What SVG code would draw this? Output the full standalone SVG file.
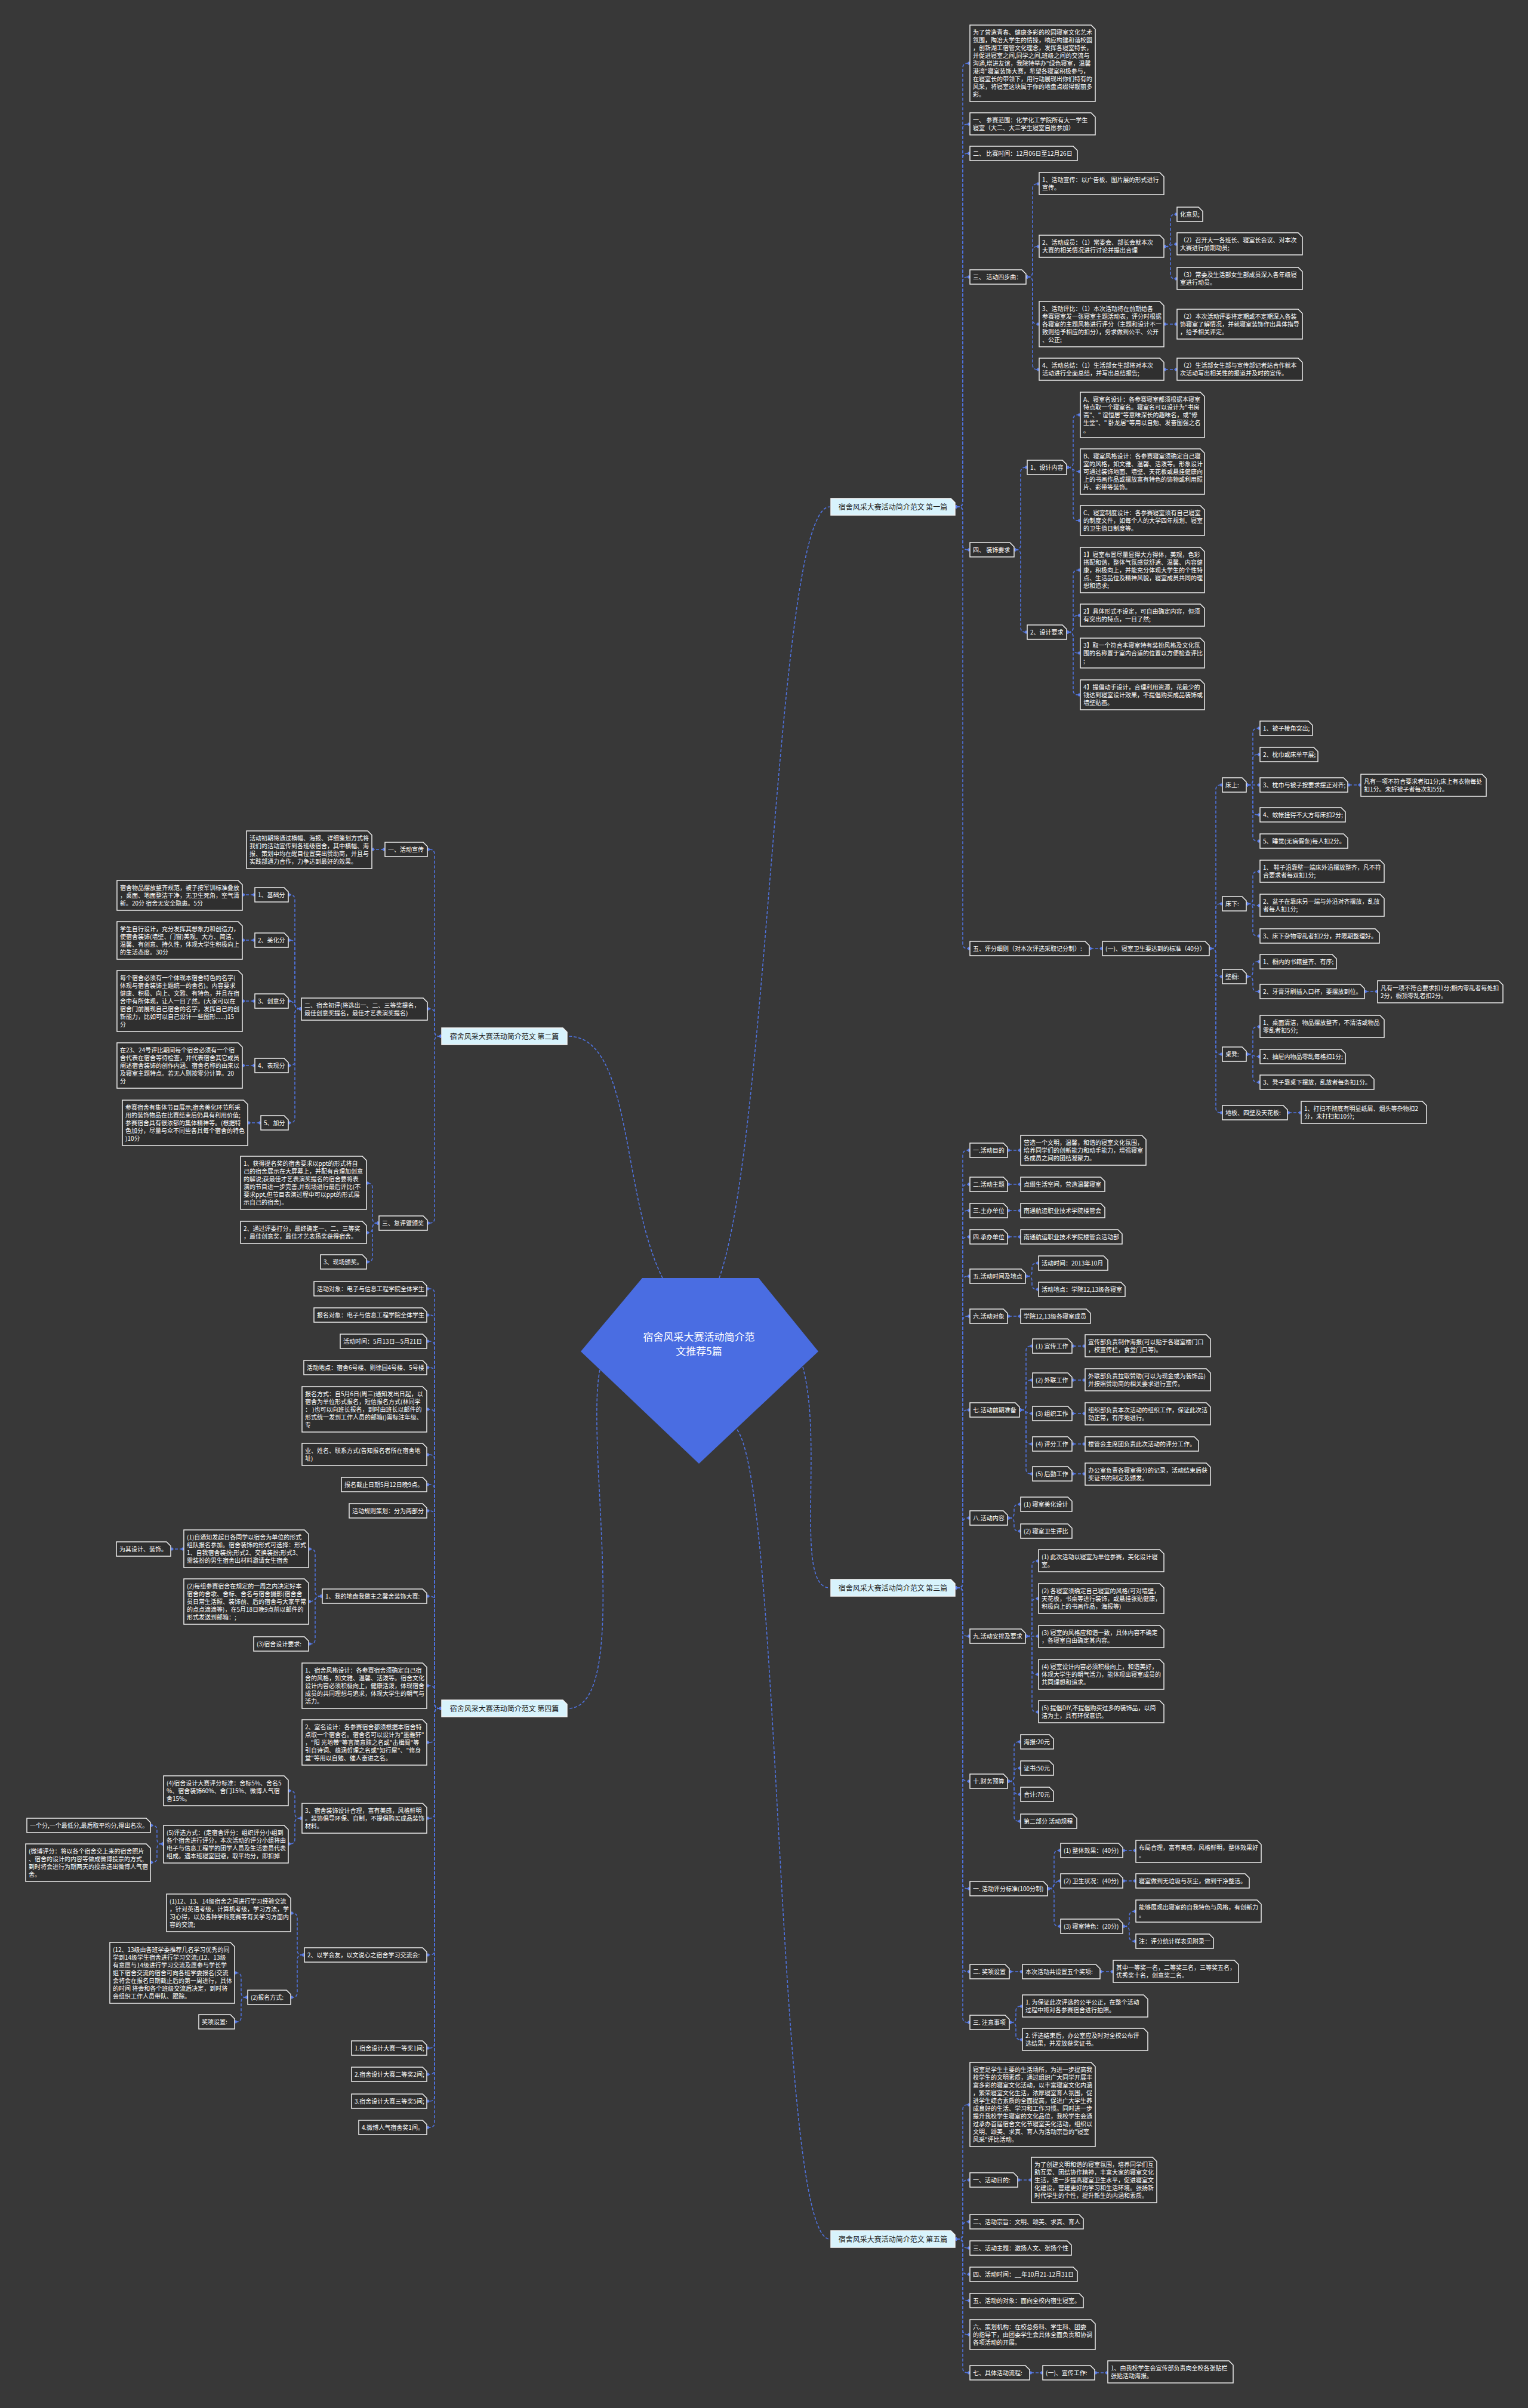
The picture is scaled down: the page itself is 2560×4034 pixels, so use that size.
<svg xmlns="http://www.w3.org/2000/svg" width="2560" height="4034" viewBox="0 0 2560 4034">
<style>
.n path{fill:#2f2f2f;stroke:#ececec;stroke-width:1.5}
.n text{fill:#fff;font-family:'Noto Sans CJK SC','Noto Sans',sans-serif;font-size:10px}
.b path{fill:#d8f3fc;stroke:#f4f4f4;stroke-width:1.5}
.b text{fill:#222;font-family:'Noto Sans CJK SC','Noto Sans',sans-serif;font-size:12px}
.c path{fill:none;stroke:#4f72de;stroke-width:1.6;stroke-dasharray:5 3;marker-start:url(#dot);marker-end:url(#dot)}
.cc path{fill:none;stroke:#4f72de;stroke-width:1.6;stroke-dasharray:5 3}
</style>
<defs>
<marker id="dot" viewBox="-4 -4 8 8" markerWidth="8" markerHeight="8" markerUnits="userSpaceOnUse"><path d="M0 -3L3 0L0 3L-3 0Z" fill="#5a7ce6"/></marker>
</defs>
<rect width="2560" height="4034" fill="#383838"/>

<g id="connectors">
<g class="cc">
<path d="M1205 2141C1290 1900 1300 849 1390 849"/>
<path d="M1345 2290C1380 2420 1330 2660 1390 2660"/>
<path d="M1235 2395C1310 2500 1300 3751 1390 3751"/>
<path d="M1110 2141C1040 2000 1060 1736 952 1736"/>
<path d="M1005 2295C980 2420 1060 2862 952 2862"/>
</g>
<g class="c">
<!-- section 1 -->
<path d="M1602 849H1605Q1613 849 1613 841V114Q1613 106 1621 106H1623"/>
<path d="M1602 849H1605Q1613 849 1613 841V216Q1613 208 1621 208H1623"/>
<path d="M1602 849H1605Q1613 849 1613 841V265Q1613 257 1621 257H1623"/>
<path d="M1602 849H1605Q1613 849 1613 841V472Q1613 464 1621 464H1623"/>
<path d="M1602 849H1605Q1613 849 1613 857V913Q1613 921 1621 921H1623"/>
<path d="M1602 849H1605Q1613 849 1613 857V1581Q1613 1589 1621 1589H1623"/>
<path d="M1721 464H1722Q1730 464 1730 456V316Q1730 308 1738 308H1739"/>
<path d="M1721 464H1722Q1730 464 1730 456V421Q1730 413 1738 413H1739"/>
<path d="M1721 464H1722Q1730 464 1730 472V535Q1730 543 1738 543H1739"/>
<path d="M1721 464H1722Q1730 464 1730 472V611Q1730 619 1738 619H1739"/>
<path d="M1952 413H1953Q1961 413 1961 405V367Q1961 359 1969 359H1970"/>
<path d="M1952 413C1961 413 1961 409 1970 409"/>
<path d="M1952 413H1953Q1961 413 1961 421V459Q1961 467 1969 467H1970"/>
<path d="M1952 543H1970"/>
<path d="M1952 619H1970"/>
<path d="M1701 921H1702Q1710 921 1710 913V791Q1710 783 1718 783H1719"/>
<path d="M1701 921H1702Q1710 921 1710 929V1051Q1710 1059 1718 1059H1719"/>
<path d="M1789 783H1790Q1798 783 1798 775V703Q1798 695 1806 695H1808"/>
<path d="M1789 783C1798 783 1798 790 1808 790"/>
<path d="M1789 783H1790Q1798 783 1798 791V864Q1798 872 1806 872H1808"/>
<path d="M1789 1059H1790Q1798 1059 1798 1051V963Q1798 955 1806 955H1808"/>
<path d="M1789 1059H1790Q1798 1059 1798 1051V1039Q1798 1031 1806 1031H1808"/>
<path d="M1789 1059H1790Q1798 1059 1798 1067V1086Q1798 1094 1806 1094H1808"/>
<path d="M1789 1059H1790Q1798 1059 1798 1067V1156Q1798 1164 1806 1164H1808"/>
<path d="M1827 1589H1845"/>
<path d="M2028 1589H2029Q2037 1589 2037 1581V1323Q2037 1315 2045 1315H2046"/>
<path d="M2028 1589H2029Q2037 1589 2037 1581V1522Q2037 1514 2045 1514H2046"/>
<path d="M2028 1589H2029Q2037 1589 2037 1597V1628Q2037 1636 2045 1636H2046"/>
<path d="M2028 1589H2029Q2037 1589 2037 1597V1758Q2037 1766 2045 1766H2046"/>
<path d="M2028 1589H2029Q2037 1589 2037 1597V1856Q2037 1864 2045 1864H2046"/>
<path d="M2090 1315H2091Q2099 1315 2099 1307V1228Q2099 1220 2107 1220H2109"/>
<path d="M2090 1315H2091Q2099 1315 2099 1307V1272Q2099 1264 2107 1264H2109"/>
<path d="M2090 1315H2109"/>
<path d="M2090 1315H2091Q2099 1315 2099 1323V1357Q2099 1365 2107 1365H2109"/>
<path d="M2090 1315H2091Q2099 1315 2099 1323V1401Q2099 1409 2107 1409H2109"/>
<path d="M2260 1315H2278"/>
<path d="M2090 1514H2091Q2099 1514 2099 1506V1468Q2099 1460 2107 1460H2109"/>
<path d="M2090 1514C2099 1514 2099 1517 2109 1517"/>
<path d="M2090 1514H2091Q2099 1514 2099 1522V1560Q2099 1568 2107 1568H2109"/>
<path d="M2090 1636H2091Q2099 1636 2099 1628V1619Q2099 1611 2107 1611H2109"/>
<path d="M2090 1636H2091Q2099 1636 2099 1644V1653Q2099 1661 2107 1661H2109"/>
<path d="M2288 1661H2306"/>
<path d="M2090 1766H2091Q2099 1766 2099 1758V1728Q2099 1720 2107 1720H2109"/>
<path d="M2090 1766C2099 1766 2099 1770 2109 1770"/>
<path d="M2090 1766H2091Q2099 1766 2099 1774V1805Q2099 1813 2107 1813H2109"/>
<path d="M2159 1864H2178"/>
<!-- section 3 -->
<path d="M1602 2660H1605Q1613 2660 1613 2652V1935Q1613 1927 1621 1927H1623"/>
<path d="M1602 2660H1605Q1613 2660 1613 2652V1992Q1613 1984 1621 1984H1623"/>
<path d="M1602 2660H1605Q1613 2660 1613 2652V2036Q1613 2028 1621 2028H1623"/>
<path d="M1602 2660H1605Q1613 2660 1613 2652V2080Q1613 2072 1621 2072H1623"/>
<path d="M1602 2660H1605Q1613 2660 1613 2652V2146Q1613 2138 1621 2138H1623"/>
<path d="M1602 2660H1605Q1613 2660 1613 2652V2213Q1613 2205 1621 2205H1623"/>
<path d="M1602 2660H1605Q1613 2660 1613 2652V2370Q1613 2362 1621 2362H1623"/>
<path d="M1602 2660H1605Q1613 2660 1613 2652V2551Q1613 2543 1621 2543H1623"/>
<path d="M1602 2660H1605Q1613 2660 1613 2668V2733Q1613 2741 1621 2741H1623"/>
<path d="M1602 2660H1605Q1613 2660 1613 2668V2976Q1613 2984 1621 2984H1623"/>
<path d="M1602 2660H1605Q1613 2660 1613 2668V3156Q1613 3164 1621 3164H1623"/>
<path d="M1602 2660H1605Q1613 2660 1613 2668V3295Q1613 3303 1621 3303H1623"/>
<path d="M1602 2660H1605Q1613 2660 1613 2668V3380Q1613 3388 1621 3388H1623"/>
<path d="M1690 1927H1708"/>
<path d="M1690 1984H1708"/>
<path d="M1690 2028H1708"/>
<path d="M1690 2072H1708"/>
<path d="M1720 2138H1721Q1729 2138 1729 2130V2124Q1729 2116 1737 2116H1738"/>
<path d="M1720 2138H1721Q1729 2138 1729 2146V2152Q1729 2160 1737 2160H1738"/>
<path d="M1690 2205H1708"/>
<path d="M1710 2362H1711Q1719 2362 1719 2354V2263Q1719 2255 1727 2255H1728"/>
<path d="M1710 2362H1711Q1719 2362 1719 2354V2320Q1719 2312 1727 2312H1728"/>
<path d="M1710 2362C1719 2362 1719 2368 1728 2368"/>
<path d="M1710 2362H1711Q1719 2362 1719 2370V2411Q1719 2419 1727 2419H1728"/>
<path d="M1710 2362H1711Q1719 2362 1719 2370V2461Q1719 2469 1727 2469H1728"/>
<path d="M1798 2255H1816"/>
<path d="M1798 2312H1816"/>
<path d="M1798 2368H1816"/>
<path d="M1798 2419H1816"/>
<path d="M1798 2469H1816"/>
<path d="M1690 2543H1691Q1699 2543 1699 2535V2528Q1699 2520 1707 2520H1708"/>
<path d="M1690 2543H1691Q1699 2543 1699 2551V2557Q1699 2565 1707 2565H1708"/>
<path d="M1720 2741H1721Q1729 2741 1729 2733V2623Q1729 2615 1737 2615H1738"/>
<path d="M1720 2741H1721Q1729 2741 1729 2733V2686Q1729 2678 1737 2678H1738"/>
<path d="M1720 2741H1738"/>
<path d="M1720 2741H1721Q1729 2741 1729 2749V2797Q1729 2805 1737 2805H1738"/>
<path d="M1720 2741H1721Q1729 2741 1729 2749V2860Q1729 2868 1737 2868H1738"/>
<path d="M1690 2984H1691Q1699 2984 1699 2976V2926Q1699 2918 1707 2918H1708"/>
<path d="M1690 2984H1691Q1699 2984 1699 2976V2970Q1699 2962 1707 2962H1708"/>
<path d="M1690 2984H1691Q1699 2984 1699 2992V2998Q1699 3006 1707 3006H1708"/>
<path d="M1690 2984H1691Q1699 2984 1699 2992V3043Q1699 3051 1707 3051H1708"/>
<path d="M1757 3164H1758Q1766 3164 1766 3156V3108Q1766 3100 1774 3100H1775"/>
<path d="M1757 3164C1766 3164 1766 3151 1775 3151"/>
<path d="M1757 3164H1758Q1766 3164 1766 3172V3219Q1766 3227 1774 3227H1775"/>
<path d="M1883 3100H1901"/>
<path d="M1883 3151H1901"/>
<path d="M1883 3227H1884Q1892 3227 1892 3219V3210Q1892 3202 1900 3202H1901"/>
<path d="M1883 3227H1884Q1892 3227 1892 3235V3244Q1892 3252 1900 3252H1901"/>
<path d="M1693 3303H1711"/>
<path d="M1845 3303H1863"/>
<path d="M1693 3388H1694Q1702 3388 1702 3380V3369Q1702 3361 1710 3361H1711"/>
<path d="M1693 3388H1694Q1702 3388 1702 3396V3409Q1702 3417 1710 3417H1711"/>
<!-- section 5 -->
<path d="M1602 3751H1605Q1613 3751 1613 3743V3534Q1613 3526 1621 3526H1623"/>
<path d="M1602 3751H1605Q1613 3751 1613 3743V3660Q1613 3652 1621 3652H1623"/>
<path d="M1602 3751H1605Q1613 3751 1613 3743V3730Q1613 3722 1621 3722H1623"/>
<path d="M1602 3751H1605Q1613 3751 1613 3759V3758Q1613 3766 1621 3766H1623"/>
<path d="M1602 3751H1605Q1613 3751 1613 3759V3802Q1613 3810 1621 3810H1623"/>
<path d="M1602 3751H1605Q1613 3751 1613 3759V3846Q1613 3854 1621 3854H1623"/>
<path d="M1602 3751H1605Q1613 3751 1613 3759V3903Q1613 3911 1621 3911H1623"/>
<path d="M1602 3751H1605Q1613 3751 1613 3759V3967Q1613 3975 1621 3975H1623"/>
<path d="M1707 3652H1726"/>
<path d="M1727 3975H1745"/>
<path d="M1836 3975H1854"/>
<!-- section 2 -->
<path d="M738 1736H736Q728 1736 728 1728V1431Q728 1423 720 1423H718"/>
<path d="M738 1736H736Q728 1736 728 1728V1698Q728 1690 720 1690H718"/>
<path d="M738 1736H736Q728 1736 728 1744V2041Q728 2049 720 2049H718"/>
<path d="M643 1423H625"/>
<path d="M503 1690H502Q494 1690 494 1682V1507Q494 1499 486 1499H485"/>
<path d="M503 1690H502Q494 1690 494 1682V1583Q494 1575 486 1575H485"/>
<path d="M503 1690C494 1690 494 1677 485 1677"/>
<path d="M503 1690H502Q494 1690 494 1698V1777Q494 1785 486 1785H485"/>
<path d="M503 1690H502Q494 1690 494 1698V1873Q494 1881 486 1881H485"/>
<path d="M425 1499H408"/>
<path d="M425 1575H408"/>
<path d="M425 1677H408"/>
<path d="M425 1785H408"/>
<path d="M435 1881H417"/>
<path d="M633 2049H632Q624 2049 624 2041V1990Q624 1982 616 1982"/>
<path d="M633 2049H632Q624 2049 624 2057V2057Q624 2065 616 2065"/>
<path d="M633 2049H632Q624 2049 624 2057V2106Q624 2114 616 2114"/>
<!-- section 4 -->
<path d="M738 2862H736Q728 2862 728 2854V2167Q728 2159 720 2159H717"/>
<path d="M738 2862H736Q728 2862 728 2854V2211Q728 2203 720 2203H717"/>
<path d="M738 2862H736Q728 2862 728 2854V2255Q728 2247 720 2247H717"/>
<path d="M738 2862H736Q728 2862 728 2854V2299Q728 2291 720 2291H717"/>
<path d="M738 2862H736Q728 2862 728 2854V2369Q728 2361 720 2361H717"/>
<path d="M738 2862H736Q728 2862 728 2854V2445Q728 2437 720 2437H717"/>
<path d="M738 2862H736Q728 2862 728 2854V2495Q728 2487 720 2487H717"/>
<path d="M738 2862H736Q728 2862 728 2854V2539Q728 2531 720 2531H717"/>
<path d="M738 2862H736Q728 2862 728 2854V2682Q728 2674 720 2674H717"/>
<path d="M738 2862H736Q728 2862 728 2854V2832Q728 2824 720 2824H717"/>
<path d="M738 2862H736Q728 2862 728 2870V2911Q728 2919 720 2919H717"/>
<path d="M738 2862H736Q728 2862 728 2870V3038Q728 3046 720 3046H717"/>
<path d="M738 2862H736Q728 2862 728 2870V3267Q728 3275 720 3275H717"/>
<path d="M738 2862H736Q728 2862 728 2870V3423Q728 3431 720 3431H717"/>
<path d="M738 2862H736Q728 2862 728 2870V3467Q728 3475 720 3475H717"/>
<path d="M738 2862H736Q728 2862 728 2870V3512Q728 3520 720 3520H717"/>
<path d="M738 2862H736Q728 2862 728 2870V3556Q728 3564 720 3564H717"/>
<path d="M538 2674H536Q528 2674 528 2666V2603Q528 2595 520 2595H519"/>
<path d="M538 2674C528 2674 528 2683 519 2683"/>
<path d="M538 2674H536Q528 2674 528 2682V2746Q528 2754 520 2754H519"/>
<path d="M306 2595H288"/>
<path d="M504 3046H502Q494 3046 494 3038V3008Q494 3000 486 3000H485"/>
<path d="M504 3046H502Q494 3046 494 3054V3081Q494 3089 486 3089H485"/>
<path d="M272 3089H271Q263 3089 263 3081V3066Q263 3058 255 3058H254"/>
<path d="M272 3089H271Q263 3089 263 3097V3112Q263 3120 255 3120H254"/>
<path d="M508 3275H506Q498 3275 498 3267V3213Q498 3205 490 3205H489"/>
<path d="M508 3275H506Q498 3275 498 3283V3338Q498 3346 490 3346H489"/>
<path d="M413 3346H412Q404 3346 404 3338V3313Q404 3305 396 3305H395"/>
<path d="M413 3346H412Q404 3346 404 3354V3379Q404 3387 396 3387H395"/>
</g>
</g>

<g id="center">
<polygon points="1076,2141 1271,2141 1371,2264 1171,2452 973,2264" fill="#4a6de2"/>
<text x="1171" y="2246" text-anchor="middle" font-family="'Noto Sans CJK SC',sans-serif" font-size="17" fill="#fff">宿舍风采大赛活动简介范</text>
<text x="1171" y="2270" text-anchor="middle" font-family="'Noto Sans CJK SC',sans-serif" font-size="17" fill="#fff">文推荐5篇</text>
</g>

<g id="b1" class="b" transform="translate(1392,835)"><path d="M0 0H201L208 7V28H0Z"/><text x="104" y="19" text-anchor="middle">宿舍风采大赛活动简介范文 第一篇</text></g>
<g id="b2" class="b" transform="translate(740,1722)"><path d="M0 0H203L210 7V28H0Z"/><text x="105" y="19" text-anchor="middle">宿舍风采大赛活动简介范文 第二篇</text></g>
<g id="b3" class="b" transform="translate(1392,2646)"><path d="M0 0H201L208 7V28H0Z"/><text x="104" y="19" text-anchor="middle">宿舍风采大赛活动简介范文 第三篇</text></g>
<g id="b4" class="b" transform="translate(740,2848)"><path d="M0 0H203L210 7V28H0Z"/><text x="105" y="19" text-anchor="middle">宿舍风采大赛活动简介范文 第四篇</text></g>
<g id="b5" class="b" transform="translate(1392,3737)"><path d="M0 0H201L208 7V28H0Z"/><text x="104" y="19" text-anchor="middle">宿舍风采大赛活动简介范文 第五篇</text></g>

<!-- Section 1 -->
<g id="s1a" class="n" transform="translate(1625,42)"><path d="M0 0H203L210 7V128H0Z"/><text x="5" y="16">为了营造青春、健康多彩的校园寝室文化艺术<tspan x="5" dy="13">氛围，陶冶大学生的情操，响应构建和谐校园</tspan><tspan x="5" dy="13">，创新湖工宿管文化理念，发挥各寝室特长，</tspan><tspan x="5" dy="13">并促进寝室之间,同学之间,班级之间的交流与</tspan><tspan x="5" dy="13">沟通,增进友谊，我院特举办"绿色寝室，温馨</tspan><tspan x="5" dy="13">港湾"寝室装饰大赛，希望各寝室积极参与，</tspan><tspan x="5" dy="13">在寝室长的带领下，用行动展现出你们特有的</tspan><tspan x="5" dy="13">风采，将寝室这块属于你的地盘点缀得靓丽多</tspan><tspan x="5" dy="13">彩。</tspan></text></g>
<g id="s1b" class="n" transform="translate(1625,189)"><path d="M0 0H203L210 7V37H0Z"/><text x="5" y="16">一、 参赛范围：化学化工学院所有大一学生<tspan x="5" dy="13">寝室（大二、大三学生寝室自愿参加）</tspan></text></g>
<g id="s1c" class="n" transform="translate(1625,245)"><path d="M0 0H173L180 7V24H0Z"/><text x="5" y="16">二、 比赛时间：12月06日至12月26日</text></g>
<g id="s1d" class="n" transform="translate(1625,452)"><path d="M0 0H87L94 7V24H0Z"/><text x="5" y="16">三、 活动四步曲：</text></g>
<g id="s1d1" class="n" transform="translate(1741,289)"><path d="M0 0H202L209 7V37H0Z"/><text x="5" y="16">1、活动宣传：以广告板、图片展的形式进行<tspan x="5" dy="13">宣传。</tspan></text></g>
<g id="s1d2" class="n" transform="translate(1741,394)"><path d="M0 0H202L209 7V37H0Z"/><text x="5" y="16">2、活动成员：（1）常委会、部长会就本次<tspan x="5" dy="13">大赛的相关情况进行讨论并提出合理</tspan></text></g>
<g id="s1d2a" class="n" transform="translate(1972,347)"><path d="M0 0H36L43 7V24H0Z"/><text x="5" y="16">化意见;</text></g>
<g id="s1d2b" class="n" transform="translate(1972,390)"><path d="M0 0H203L210 7V37H0Z"/><text x="5" y="16">（2）召开大一各班长、寝室长会议、对本次<tspan x="5" dy="13">大赛进行前期动员;</tspan></text></g>
<g id="s1d2c" class="n" transform="translate(1972,448)"><path d="M0 0H203L210 7V37H0Z"/><text x="5" y="16">（3）常委及生活部女生部成员深入各年级寝<tspan x="5" dy="13">室进行动员。</tspan></text></g>
<g id="s1d3" class="n" transform="translate(1741,505)"><path d="M0 0H202L209 7V76H0Z"/><text x="5" y="16">3、活动评比：（1）本次活动将在前期给各<tspan x="5" dy="13">参赛寝室发一张寝室主题活动表，评分时根据</tspan><tspan x="5" dy="13">各寝室的主题风格进行评分（主题和设计不一</tspan><tspan x="5" dy="13">致则给予相应的扣分），务求做到公平、公开</tspan><tspan x="5" dy="13">、公正;</tspan></text></g>
<g id="s1d3a" class="n" transform="translate(1972,518)"><path d="M0 0H203L210 7V50H0Z"/><text x="5" y="16">（2）本次活动评委将定期或不定期深入各装<tspan x="5" dy="13">饰寝室了解情况，并就寝室装饰作出具体指导</tspan><tspan x="5" dy="13">，给予相关评定。</tspan></text></g>
<g id="s1d4" class="n" transform="translate(1741,600)"><path d="M0 0H202L209 7V37H0Z"/><text x="5" y="16">4、活动总结：（1）生活部女生部将对本次<tspan x="5" dy="13">活动进行全面总结，并写出总结报告;</tspan></text></g>
<g id="s1d4a" class="n" transform="translate(1972,600)"><path d="M0 0H203L210 7V37H0Z"/><text x="5" y="16">（2）生活部女生部与宣传部记者站合作就本<tspan x="5" dy="13">次活动写出相关性的报道并及时的宣传。</tspan></text></g>
<g id="s1e" class="n" transform="translate(1625,909)"><path d="M0 0H67L74 7V24H0Z"/><text x="5" y="16">四、 装饰要求</text></g>
<g id="s1e1" class="n" transform="translate(1721,771)"><path d="M0 0H59L66 7V24H0Z"/><text x="5" y="16">1、设计内容</text></g>
<g id="s1e1a" class="n" transform="translate(1810,657)"><path d="M0 0H201L208 7V76H0Z"/><text x="5" y="16">A、寝室名设计：各参赛寝室都须根据本寝室<tspan x="5" dy="13">特点取一个寝室名。寝室名可以设计为"书房</tspan><tspan x="5" dy="13">斋"、" 谊恒居"等意味深长的趣味名，或"修</tspan><tspan x="5" dy="13">生堂"、" 卧龙居"等用以自勉、发奋图强之名</tspan><tspan x="5" dy="13">。</tspan></text></g>
<g id="s1e1b" class="n" transform="translate(1810,752)"><path d="M0 0H201L208 7V76H0Z"/><text x="5" y="16">B、寝室风格设计：各参赛寝室须确定自己寝<tspan x="5" dy="13">室的风格，如文雅、温馨、活泼等。形象设计</tspan><tspan x="5" dy="13">可通过装饰地面、墙壁、天花板或悬挂健康向</tspan><tspan x="5" dy="13">上的书画作品或摆放富有特色的饰物或利用照</tspan><tspan x="5" dy="13">片、彩带等装饰。</tspan></text></g>
<g id="s1e1c" class="n" transform="translate(1810,847)"><path d="M0 0H201L208 7V50H0Z"/><text x="5" y="16">C、寝室制度设计：各参赛寝室须有自己寝室<tspan x="5" dy="13">的制度文件，如每个人的大学四年规划、寝室</tspan><tspan x="5" dy="13">的卫生值日制度等。</tspan></text></g>
<g id="s1e2" class="n" transform="translate(1721,1047)"><path d="M0 0H59L66 7V24H0Z"/><text x="5" y="16">2、设计要求</text></g>
<g id="s1e2a" class="n" transform="translate(1810,917)"><path d="M0 0H201L208 7V76H0Z"/><text x="5" y="16">1】寝室布置尽量显得大方得体，美观，色彩<tspan x="5" dy="13">搭配和谐，整体气氛感觉舒适、温馨、内容健</tspan><tspan x="5" dy="13">康，积极向上，并能充分体现大学生的个性特</tspan><tspan x="5" dy="13">点、生活品位及精神风貌，寝室成员共同的理</tspan><tspan x="5" dy="13">想和追求;</tspan></text></g>
<g id="s1e2b" class="n" transform="translate(1810,1012)"><path d="M0 0H201L208 7V37H0Z"/><text x="5" y="16">2】具体形式不设定，可自由确定内容，但须<tspan x="5" dy="13">有突出的特点，一目了然;</tspan></text></g>
<g id="s1e2c" class="n" transform="translate(1810,1069)"><path d="M0 0H201L208 7V50H0Z"/><text x="5" y="16">3】取一个符合本寝室特有装扮风格及文化氛<tspan x="5" dy="13">围的名称置于室内合适的位置以方便检查评比</tspan><tspan x="5" dy="13">;</tspan></text></g>
<g id="s1e2d" class="n" transform="translate(1810,1139)"><path d="M0 0H201L208 7V50H0Z"/><text x="5" y="16">4】提倡动手设计，合理利用资源，花最少的<tspan x="5" dy="13">钱达到寝室设计效果，不提倡购买成品装饰或</tspan><tspan x="5" dy="13">墙壁贴画。</tspan></text></g>
<g id="s1f" class="n" transform="translate(1625,1577)"><path d="M0 0H193L200 7V24H0Z"/><text x="5" y="16">五、评分细则（对本次评选采取记分制）:</text></g>
<g id="s1f1" class="n" transform="translate(1847,1577)"><path d="M0 0H172L179 7V24H0Z"/><text x="5" y="16">(一)、寝室卫生要达到的标准（40分）</text></g>
<g id="bed1" class="n" transform="translate(2048,1303)"><path d="M0 0H33L40 7V24H0Z"/><text x="5" y="16">床上:</text></g>
<g id="bed1a" class="n" transform="translate(2111,1208)"><path d="M0 0H81L88 7V24H0Z"/><text x="5" y="16">1、被子棱角突出;</text></g>
<g id="bed1b" class="n" transform="translate(2111,1252)"><path d="M0 0H90L97 7V24H0Z"/><text x="5" y="16">2、枕巾或床单平展;</text></g>
<g id="bed1c" class="n" transform="translate(2111,1303)"><path d="M0 0H140L147 7V24H0Z"/><text x="5" y="16">3、枕巾与被子按要求摆正对齐;</text></g>
<g id="bed1c1" class="n" transform="translate(2280,1297)"><path d="M0 0H203L210 7V37H0Z"/><text x="5" y="16">凡有一项不符合要求者扣1分;床上有衣物每处<tspan x="5" dy="13">扣1分。未折被子者每次扣5分。</tspan></text></g>
<g id="bed1d" class="n" transform="translate(2111,1353)"><path d="M0 0H136L143 7V24H0Z"/><text x="5" y="16">4、蚊帐挂得不大方每床扣2分;</text></g>
<g id="bed1e" class="n" transform="translate(2111,1397)"><path d="M0 0H140L147 7V24H0Z"/><text x="5" y="16">5、睡觉(无病假条)每人扣2分。</text></g>
<g id="bed2" class="n" transform="translate(2048,1502)"><path d="M0 0H33L40 7V24H0Z"/><text x="5" y="16">床下:</text></g>
<g id="bed2a" class="n" transform="translate(2111,1441)"><path d="M0 0H201L208 7V37H0Z"/><text x="5" y="16">1、 鞋子沿靠壁一端床外沿摆放整齐，凡不符<tspan x="5" dy="13">合要求者每双扣1分;</tspan></text></g>
<g id="bed2b" class="n" transform="translate(2111,1498)"><path d="M0 0H201L208 7V37H0Z"/><text x="5" y="16">2、盆子在靠床另一端与外沿对齐摆放，乱放<tspan x="5" dy="13">者每人扣1分;</tspan></text></g>
<g id="bed2c" class="n" transform="translate(2111,1556)"><path d="M0 0H193L200 7V24H0Z"/><text x="5" y="16">3、床下杂物零乱者扣2分，并限期整理好。</text></g>
<g id="cab" class="n" transform="translate(2048,1624)"><path d="M0 0H33L40 7V24H0Z"/><text x="5" y="16">壁橱:</text></g>
<g id="caba" class="n" transform="translate(2111,1599)"><path d="M0 0H121L128 7V24H0Z"/><text x="5" y="16">1、橱内的书籍整齐、有序;</text></g>
<g id="cabb" class="n" transform="translate(2111,1649)"><path d="M0 0H168L175 7V24H0Z"/><text x="5" y="16">2、牙膏牙刷插入口杯，要摆放到位。</text></g>
<g id="cabb1" class="n" transform="translate(2308,1643)"><path d="M0 0H203L210 7V37H0Z"/><text x="5" y="16">凡有一项不符合要求扣1分;橱内零乱者每处扣<tspan x="5" dy="13">2分，橱顶零乱者扣2分。</tspan></text></g>
<g id="desk" class="n" transform="translate(2048,1754)"><path d="M0 0H33L40 7V24H0Z"/><text x="5" y="16">桌凳:</text></g>
<g id="deska" class="n" transform="translate(2111,1701)"><path d="M0 0H201L208 7V37H0Z"/><text x="5" y="16">1、桌面清洁，物品摆放整齐，不清洁或物品<tspan x="5" dy="13">零乱者扣5分;</tspan></text></g>
<g id="deskb" class="n" transform="translate(2111,1758)"><path d="M0 0H136L143 7V24H0Z"/><text x="5" y="16">2、抽屉内物品零乱每格扣1分;</text></g>
<g id="deskc" class="n" transform="translate(2111,1801)"><path d="M0 0H184L191 7V24H0Z"/><text x="5" y="16">3、凳子靠桌下摆放，乱放者每条扣1分。</text></g>
<g id="floor" class="n" transform="translate(2048,1852)"><path d="M0 0H102L109 7V24H0Z"/><text x="5" y="16">地板、四壁及天花板:</text></g>
<g id="floora" class="n" transform="translate(2180,1845)"><path d="M0 0H203L210 7V37H0Z"/><text x="5" y="16">1、打扫不彻底有明显纸屑、烟头等杂物扣2<tspan x="5" dy="13">分，未打扫扣10分;</tspan></text></g>

<!-- Section 3 -->
<g id="t1" class="n" transform="translate(1625,1915)"><path d="M0 0H56L63 7V24H0Z"/><text x="5" y="16">一.活动目的</text></g>
<g id="t1a" class="n" transform="translate(1710,1902)"><path d="M0 0H203L210 7V50H0Z"/><text x="5" y="16">营造一个文明，温馨，和谐的寝室文化氛围，<tspan x="5" dy="13">培养同学们的创新能力和动手能力，增强寝室</tspan><tspan x="5" dy="13">各成员之间的团结凝聚力。</tspan></text></g>
<g id="t2" class="n" transform="translate(1625,1972)"><path d="M0 0H56L63 7V24H0Z"/><text x="5" y="16">二.活动主题</text></g>
<g id="t2a" class="n" transform="translate(1710,1972)"><path d="M0 0H134L141 7V24H0Z"/><text x="5" y="16">点缀生活空间，营造温馨寝室</text></g>
<g id="t3" class="n" transform="translate(1625,2016)"><path d="M0 0H56L63 7V24H0Z"/><text x="5" y="16">三.主办单位</text></g>
<g id="t3a" class="n" transform="translate(1710,2016)"><path d="M0 0H134L141 7V24H0Z"/><text x="5" y="16">南通航运职业技术学院楼管会</text></g>
<g id="t4" class="n" transform="translate(1625,2060)"><path d="M0 0H56L63 7V24H0Z"/><text x="5" y="16">四.承办单位</text></g>
<g id="t4a" class="n" transform="translate(1710,2060)"><path d="M0 0H163L170 7V24H0Z"/><text x="5" y="16">南通航运职业技术学院楼管会活动部</text></g>
<g id="t5" class="n" transform="translate(1625,2126)"><path d="M0 0H86L93 7V24H0Z"/><text x="5" y="16">五.活动时间及地点</text></g>
<g id="t5a" class="n" transform="translate(1740,2104)"><path d="M0 0H109L116 7V24H0Z"/><text x="5" y="16">活动时间：2013年10月</text></g>
<g id="t5b" class="n" transform="translate(1740,2148)"><path d="M0 0H138L145 7V24H0Z"/><text x="5" y="16">活动地点：学院12,13级各寝室</text></g>
<g id="t6" class="n" transform="translate(1625,2193)"><path d="M0 0H56L63 7V24H0Z"/><text x="5" y="16">六.活动对象</text></g>
<g id="t6a" class="n" transform="translate(1710,2193)"><path d="M0 0H110L117 7V24H0Z"/><text x="5" y="16">学院12,13级各寝室成员</text></g>
<g id="t7" class="n" transform="translate(1625,2350)"><path d="M0 0H76L83 7V24H0Z"/><text x="5" y="16">七.活动前期准备</text></g>
<g id="t7a" class="n" transform="translate(1730,2243)"><path d="M0 0H59L66 7V24H0Z"/><text x="5" y="16">(1) 宣传工作</text></g>
<g id="t7a1" class="n" transform="translate(1818,2236)"><path d="M0 0H203L210 7V37H0Z"/><text x="5" y="16">宣传部负责制作海报(可以贴于各寝室楼门口<tspan x="5" dy="13">，校宣传栏，食堂门口等)。</tspan></text></g>
<g id="t7b" class="n" transform="translate(1730,2300)"><path d="M0 0H59L66 7V24H0Z"/><text x="5" y="16">(2) 外联工作</text></g>
<g id="t7b1" class="n" transform="translate(1818,2293)"><path d="M0 0H203L210 7V37H0Z"/><text x="5" y="16">外联部负责拉取赞助(可以为现金或为装饰品)<tspan x="5" dy="13">并按照赞助商的相关要求进行宣传。</tspan></text></g>
<g id="t7c" class="n" transform="translate(1730,2356)"><path d="M0 0H59L66 7V24H0Z"/><text x="5" y="16">(3) 组织工作</text></g>
<g id="t7c1" class="n" transform="translate(1818,2350)"><path d="M0 0H203L210 7V37H0Z"/><text x="5" y="16">组织部负责本次活动的组织工作，保证此次活<tspan x="5" dy="13">动正常，有序地进行。</tspan></text></g>
<g id="t7d" class="n" transform="translate(1730,2407)"><path d="M0 0H59L66 7V24H0Z"/><text x="5" y="16">(4) 评分工作</text></g>
<g id="t7d1" class="n" transform="translate(1818,2407)"><path d="M0 0H183L190 7V24H0Z"/><text x="5" y="16">楼管会主席团负责此次活动的评分工作。</text></g>
<g id="t7e" class="n" transform="translate(1730,2457)"><path d="M0 0H59L66 7V24H0Z"/><text x="5" y="16">(5) 后勤工作</text></g>
<g id="t7e1" class="n" transform="translate(1818,2451)"><path d="M0 0H203L210 7V37H0Z"/><text x="5" y="16">办公室负责各寝室得分的记录，活动结束后获<tspan x="5" dy="13">奖证书的制定及颁发。</tspan></text></g>
<g id="t8" class="n" transform="translate(1625,2531)"><path d="M0 0H56L63 7V24H0Z"/><text x="5" y="16">八.活动内容</text></g>
<g id="t8a" class="n" transform="translate(1710,2508)"><path d="M0 0H79L86 7V24H0Z"/><text x="5" y="16">(1) 寝室美化设计</text></g>
<g id="t8b" class="n" transform="translate(1710,2553)"><path d="M0 0H79L86 7V24H0Z"/><text x="5" y="16">(2) 寝室卫生评比</text></g>
<g id="t9" class="n" transform="translate(1625,2729)"><path d="M0 0H86L93 7V24H0Z"/><text x="5" y="16">九.活动安排及要求</text></g>
<g id="t9a" class="n" transform="translate(1740,2596)"><path d="M0 0H203L210 7V37H0Z"/><text x="5" y="16">(1) 此次活动以寝室为单位参赛，美化设计寝<tspan x="5" dy="13">室。</tspan></text></g>
<g id="t9b" class="n" transform="translate(1740,2653)"><path d="M0 0H203L210 7V50H0Z"/><text x="5" y="16">(2) 各寝室须确定自己寝室的风格(可对墙壁，<tspan x="5" dy="13">天花板，书桌等进行装饰，或悬挂张贴健康，</tspan><tspan x="5" dy="13">积极向上的书画作品，海报等)</tspan></text></g>
<g id="t9c" class="n" transform="translate(1740,2723)"><path d="M0 0H203L210 7V37H0Z"/><text x="5" y="16">(3) 寝室的风格应和谐一致，具体内容不确定<tspan x="5" dy="13">，各寝室自由确定其内容。</tspan></text></g>
<g id="t9d" class="n" transform="translate(1740,2780)"><path d="M0 0H203L210 7V50H0Z"/><text x="5" y="16">(4) 寝室设计内容必须积极向上，和谐美好，<tspan x="5" dy="13">体现大学生的朝气活力，能体现出寝室成员的</tspan><tspan x="5" dy="13">共同理想和追求。</tspan></text></g>
<g id="t9e" class="n" transform="translate(1740,2849)"><path d="M0 0H203L210 7V37H0Z"/><text x="5" y="16">(5) 提倡DIY,不提倡购买过多的装饰品，以简<tspan x="5" dy="13">洁为主，具有环保意识。</tspan></text></g>
<g id="t10" class="n" transform="translate(1625,2972)"><path d="M0 0H56L63 7V24H0Z"/><text x="5" y="16">十.财务预算</text></g>
<g id="t10a" class="n" transform="translate(1710,2906)"><path d="M0 0H48L55 7V24H0Z"/><text x="5" y="16">海报:20元</text></g>
<g id="t10b" class="n" transform="translate(1710,2950)"><path d="M0 0H48L55 7V24H0Z"/><text x="5" y="16">证书:50元</text></g>
<g id="t10c" class="n" transform="translate(1710,2994)"><path d="M0 0H48L55 7V24H0Z"/><text x="5" y="16">合计:70元</text></g>
<g id="t10d" class="n" transform="translate(1710,3039)"><path d="M0 0H87L94 7V24H0Z"/><text x="5" y="16">第二部分 活动规程</text></g>
<g id="t11" class="n" transform="translate(1625,3152)"><path d="M0 0H123L130 7V24H0Z"/><text x="5" y="16">一. 活动评分标准(100分制)</text></g>
<g id="t11a" class="n" transform="translate(1777,3088)"><path d="M0 0H97L104 7V24H0Z"/><text x="5" y="16">(1) 整体效果：(40分)</text></g>
<g id="t11a1" class="n" transform="translate(1903,3083)"><path d="M0 0H203L210 7V37H0Z"/><text x="5" y="16">布局合理，富有美感，风格鲜明，整体效果好<tspan x="5" dy="13">。</tspan></text></g>
<g id="t11b" class="n" transform="translate(1777,3139)"><path d="M0 0H97L104 7V24H0Z"/><text x="5" y="16">(2) 卫生状况：(40分)</text></g>
<g id="t11b1" class="n" transform="translate(1903,3139)"><path d="M0 0H183L190 7V24H0Z"/><text x="5" y="16">寝室做到无垃圾与灰尘，做到干净整洁。</text></g>
<g id="t11c" class="n" transform="translate(1777,3215)"><path d="M0 0H97L104 7V24H0Z"/><text x="5" y="16">(3) 寝室特色：(20分)</text></g>
<g id="t11c1" class="n" transform="translate(1903,3183)"><path d="M0 0H203L210 7V37H0Z"/><text x="5" y="16">能够展现出寝室的自我特色与风格，有创新力<tspan x="5" dy="13">。</tspan></text></g>
<g id="t11c2" class="n" transform="translate(1903,3240)"><path d="M0 0H123L130 7V24H0Z"/><text x="5" y="16">注：评分统计样表见附录一</text></g>
<g id="t12" class="n" transform="translate(1625,3291)"><path d="M0 0H59L66 7V24H0Z"/><text x="5" y="16">二. 奖项设置</text></g>
<g id="t12a" class="n" transform="translate(1713,3291)"><path d="M0 0H123L130 7V24H0Z"/><text x="5" y="16">本次活动共设置五个奖项:</text></g>
<g id="t12b" class="n" transform="translate(1865,3284)"><path d="M0 0H203L210 7V37H0Z"/><text x="5" y="16">其中一等奖一名，二等奖三名，三等奖五名，<tspan x="5" dy="13">优秀奖十名，创意奖二名。</tspan></text></g>
<g id="t13" class="n" transform="translate(1625,3376)"><path d="M0 0H59L66 7V24H0Z"/><text x="5" y="16">三. 注意事项</text></g>
<g id="t13a" class="n" transform="translate(1713,3342)"><path d="M0 0H203L210 7V37H0Z"/><text x="5" y="16">1. 为保证此次评选的公平公正，在整个活动<tspan x="5" dy="13">过程中将对各参赛宿舍进行拍照。</tspan></text></g>
<g id="t13b" class="n" transform="translate(1713,3398)"><path d="M0 0H203L210 7V37H0Z"/><text x="5" y="16">2. 评选结束后，办公室应及时对全校公布评<tspan x="5" dy="13">选结果，并发放获奖证书。</tspan></text></g>

<!-- Section 5 -->
<g id="f0" class="n" transform="translate(1625,3455)"><path d="M0 0H203L210 7V141H0Z"/><text x="5" y="16">寝室是学生主要的生活场所，为进一步提高我<tspan x="5" dy="13">校学生的文明素质，通过组织广大同学开展丰</tspan><tspan x="5" dy="13">富多彩的寝室文化活动，以丰富寝室文化内涵</tspan><tspan x="5" dy="13">，繁荣寝室文化生活，浓厚寝室育人氛围，促</tspan><tspan x="5" dy="13">进学生综合素质的全面提高，促进广大学生养</tspan><tspan x="5" dy="13">成良好的生活、学习和工作习惯。同时进一步</tspan><tspan x="5" dy="13">提升我校学生寝室的文化品位，我校学生会通</tspan><tspan x="5" dy="13">过承办首届宿舍文化节寝室美化活动，组织以</tspan><tspan x="5" dy="13">文明、颂美、求真、育人为活动宗旨的"寝室</tspan><tspan x="5" dy="13">风采"评比活动。</tspan></text></g>
<g id="f1" class="n" transform="translate(1625,3640)"><path d="M0 0H73L80 7V24H0Z"/><text x="5" y="16">一、活动目的:</text></g>
<g id="f1a" class="n" transform="translate(1728,3614)"><path d="M0 0H203L210 7V76H0Z"/><text x="5" y="16">为了创建文明和谐的寝室氛围，培养同学们互<tspan x="5" dy="13">助互爱、团结协作精神，丰富大家的寝室文化</tspan><tspan x="5" dy="13">生活，进一步提高寝室卫生水平，促进寝室文</tspan><tspan x="5" dy="13">化建设，营建更好的学习和生活环境。张扬新</tspan><tspan x="5" dy="13">时代学生的个性，提升新生的内涵和素质。</tspan></text></g>
<g id="f2" class="n" transform="translate(1625,3710)"><path d="M0 0H183L190 7V24H0Z"/><text x="5" y="16">二、活动宗旨：文明、颂美、求真、育人</text></g>
<g id="f3" class="n" transform="translate(1625,3754)"><path d="M0 0H163L170 7V24H0Z"/><text x="5" y="16">三、活动主题：激扬人文、张扬个性</text></g>
<g id="f4" class="n" transform="translate(1625,3798)"><path d="M0 0H173L180 7V24H0Z"/><text x="5" y="16">四、活动时间：__年10月21-12月31日</text></g>
<g id="f5" class="n" transform="translate(1625,3842)"><path d="M0 0H183L190 7V24H0Z"/><text x="5" y="16">五、活动的对象：面向全校内宿生寝室。</text></g>
<g id="f6" class="n" transform="translate(1625,3886)"><path d="M0 0H203L210 7V50H0Z"/><text x="5" y="16">六、策划机构：在校总务科、学生科、团委<tspan x="5" dy="13">的指导下，由团委学生会具体全面负责和协调</tspan><tspan x="5" dy="13">各项活动的开展。</tspan></text></g>
<g id="f7" class="n" transform="translate(1625,3963)"><path d="M0 0H93L100 7V24H0Z"/><text x="5" y="16">七、具体活动流程:</text></g>
<g id="f7a" class="n" transform="translate(1747,3963)"><path d="M0 0H80L87 7V24H0Z"/><text x="5" y="16">(一)、宣传工作:</text></g>
<g id="f7b" class="n" transform="translate(1856,3955)"><path d="M0 0H203L210 7V37H0Z"/><text x="5" y="16">1、由我校学生会宣传部负责向全校各张贴栏<tspan x="5" dy="13">张贴活动海报。</tspan></text></g>

<!-- Section 2 -->
<g id="e1" class="n" transform="translate(645,1411)"><path d="M0 0H64L71 7V24H0Z"/><text x="5" y="16">一、活动宣传</text></g>
<g id="e1a" class="n" transform="translate(413,1392)"><path d="M0 0H203L210 7V63H0Z"/><text x="5" y="16">活动初期将通过横幅、海报、详细策划方式将<tspan x="5" dy="13">我们的活动宣传到各班级宿舍，其中横幅、海</tspan><tspan x="5" dy="13">报、策划中均在醒目位置突出赞助商，并且与</tspan><tspan x="5" dy="13">实践部通力合作，力争达到最好的效果。</tspan></text></g>
<g id="e2" class="n" transform="translate(505,1672)"><path d="M0 0H204L211 7V37H0Z"/><text x="5" y="16">二、宿舍初评(将选出一、二、三等奖提名，<tspan x="5" dy="13">最佳创意奖提名，最佳才艺表演奖提名)</tspan></text></g>
<g id="e2a" class="n" transform="translate(427,1487)"><path d="M0 0H49L56 7V24H0Z"/><text x="5" y="16">1、基础分</text></g>
<g id="e2a1" class="n" transform="translate(196,1475)"><path d="M0 0H203L210 7V50H0Z"/><text x="5" y="16">宿舍物品摆放整齐规范，被子按军训标准叠放<tspan x="5" dy="13">，桌面、地面整洁干净，无卫生死角，空气清</tspan><tspan x="5" dy="13">新。20分 宿舍无安全隐患。5分</tspan></text></g>
<g id="e2b" class="n" transform="translate(427,1563)"><path d="M0 0H49L56 7V24H0Z"/><text x="5" y="16">2、美化分</text></g>
<g id="e2b1" class="n" transform="translate(196,1544)"><path d="M0 0H203L210 7V63H0Z"/><text x="5" y="16">学生自行设计，充分发挥其想象力和创造力，<tspan x="5" dy="13">使宿舍装饰(墙壁、门窗)美观、大方、简洁、</tspan><tspan x="5" dy="13">温馨、有创意、持久性，体现大学生积极向上</tspan><tspan x="5" dy="13">的生活态度。30分</tspan></text></g>
<g id="e2c" class="n" transform="translate(427,1665)"><path d="M0 0H49L56 7V24H0Z"/><text x="5" y="16">3、创意分</text></g>
<g id="e2c1" class="n" transform="translate(196,1626)"><path d="M0 0H203L210 7V102H0Z"/><text x="5" y="16">每个宿舍必须有一个体现本宿舍特色的名字(<tspan x="5" dy="13">体现与宿舍装饰主题统一的舍名)。内容要求</tspan><tspan x="5" dy="13">健康、积极、向上、文雅、有特色，并且在宿</tspan><tspan x="5" dy="13">舍中有所体现，让人一目了然。(大家可以在</tspan><tspan x="5" dy="13">宿舍门前展现自己宿舍的名字，发挥自己的创</tspan><tspan x="5" dy="13">新能力，比如可以自己设计一些图形......)15</tspan><tspan x="5" dy="13">分</tspan></text></g>
<g id="e2d" class="n" transform="translate(427,1773)"><path d="M0 0H49L56 7V24H0Z"/><text x="5" y="16">4、表现分</text></g>
<g id="e2d1" class="n" transform="translate(196,1747)"><path d="M0 0H203L210 7V76H0Z"/><text x="5" y="16">在23、24号评比期间每个宿舍必须有一个宿<tspan x="5" dy="13">舍代表在宿舍等待检查，并代表宿舍其它成员</tspan><tspan x="5" dy="13">阐述宿舍装饰的创作内涵、宿舍名称的由来以</tspan><tspan x="5" dy="13">及寝室主题特点。若无人则按零分计算。20</tspan><tspan x="5" dy="13">分</tspan></text></g>
<g id="e2e" class="n" transform="translate(437,1869)"><path d="M0 0H39L46 7V24H0Z"/><text x="5" y="16">5、加分</text></g>
<g id="e2e1" class="n" transform="translate(205,1843)"><path d="M0 0H203L210 7V76H0Z"/><text x="5" y="16">参赛宿舍有集体节目展示;宿舍美化环节所采<tspan x="5" dy="13">用的装饰物品在比赛结束后仍具有利用价值;</tspan><tspan x="5" dy="13">参赛宿舍具有很浓郁的集体精神等。(根据特</tspan><tspan x="5" dy="13">色加分，尽量与众不同些各具每个宿舍的特色</tspan><tspan x="5" dy="13">)10分</tspan></text></g>
<g id="e3" class="n" transform="translate(635,2037)"><path d="M0 0H74L81 7V24H0Z"/><text x="5" y="16">三、复评暨颁奖</text></g>
<g id="e3a" class="n" transform="translate(403,1937)"><path d="M0 0H204L211 7V89H0Z"/><text x="5" y="16">1、获得提名奖的宿舍要求以ppt的形式将自<tspan x="5" dy="13">己的宿舍展示在大屏幕上，并配有合理加创意</tspan><tspan x="5" dy="13">的解说;获最佳才艺表演奖提名的宿舍要将表</tspan><tspan x="5" dy="13">演的节目进一步完善,并现场进行最后评比(不</tspan><tspan x="5" dy="13">要求ppt,但节目表演过程中可以ppt的形式展</tspan><tspan x="5" dy="13">示自己的宿舍)。</tspan></text></g>
<g id="e3b" class="n" transform="translate(403,2046)"><path d="M0 0H204L211 7V37H0Z"/><text x="5" y="16">2、通过评委打分，最终确定一、二、三等奖<tspan x="5" dy="13">，最佳创意奖，最佳才艺表扬奖获得宿舍。</tspan></text></g>
<g id="e3c" class="n" transform="translate(537,2102)"><path d="M0 0H70L77 7V24H0Z"/><text x="5" y="16">3、现场颁奖。</text></g>

<!-- Section 4 -->
<g id="g1" class="n" transform="translate(526,2147)"><path d="M0 0H182L189 7V24H0Z"/><text x="5" y="16">活动对象：电子与信息工程学院全体学生</text></g>
<g id="g2" class="n" transform="translate(526,2191)"><path d="M0 0H182L189 7V24H0Z"/><text x="5" y="16">报名对象：电子与信息工程学院全体学生</text></g>
<g id="g3" class="n" transform="translate(570,2235)"><path d="M0 0H138L145 7V24H0Z"/><text x="5" y="16">活动时间：5月13日—5月21日</text></g>
<g id="g4" class="n" transform="translate(509,2279)"><path d="M0 0H199L206 7V24H0Z"/><text x="5" y="16">活动地点：宿舍6号楼、则徐园4号楼、5号楼</text></g>
<g id="g5" class="n" transform="translate(506,2323)"><path d="M0 0H202L209 7V76H0Z"/><text x="5" y="16">报名方式：自5月6日(周三)通知发出日起，以<tspan x="5" dy="13">宿舍为单位形式报名，短信报名方式(林同学</tspan><tspan x="5" dy="13">：  )也可以向班长报名，到时由班长以邮件的</tspan><tspan x="5" dy="13">形式统一发到工作人员的邮箱()需标注年级、</tspan><tspan x="5" dy="13">专</tspan></text></g>
<g id="g6" class="n" transform="translate(506,2418)"><path d="M0 0H202L209 7V37H0Z"/><text x="5" y="16">业、姓名、联系方式(告知报名者所在宿舍地<tspan x="5" dy="13">址)</tspan></text></g>
<g id="g7" class="n" transform="translate(572,2475)"><path d="M0 0H136L143 7V24H0Z"/><text x="5" y="16">报名截止日期5月12日晚9点。</text></g>
<g id="g8" class="n" transform="translate(585,2519)"><path d="M0 0H123L130 7V24H0Z"/><text x="5" y="16">活动规则策划：分为两部分</text></g>
<g id="g9" class="n" transform="translate(540,2662)"><path d="M0 0H168L175 7V24H0Z"/><text x="5" y="16">1、我的地盘我做主之馨舍装饰大赛:</text></g>
<g id="g9a" class="n" transform="translate(308,2563)"><path d="M0 0H202L209 7V63H0Z"/><text x="5" y="16">(1)自通知发起日各同学以宿舍为单位的形式<tspan x="5" dy="13">组队报名参加。宿舍装饰的形式可选择：形式</tspan><tspan x="5" dy="13">1、自我宿舍装扮;形式2、交换装扮;形式3、</tspan><tspan x="5" dy="13">需装扮的男生宿舍出材料邀请女生宿舍</tspan></text></g>
<g id="g9a1" class="n" transform="translate(195,2583)"><path d="M0 0H84L91 7V24H0Z"/><text x="5" y="16">为其设计、装饰。</text></g>
<g id="g9b" class="n" transform="translate(308,2645)"><path d="M0 0H202L209 7V76H0Z"/><text x="5" y="16">(2)每组参赛宿舍在规定的一周之内决定好本<tspan x="5" dy="13">宿舍的舍歌、舍标、舍名与宿舍摄影(宿舍舍</tspan><tspan x="5" dy="13">员日常生活照、装饰前、后的宿舍与大家平常</tspan><tspan x="5" dy="13">的点点滴滴等)，在5月18日晚9点前以邮件的</tspan><tspan x="5" dy="13">形式发送到邮箱：;</tspan></text></g>
<g id="g9c" class="n" transform="translate(425,2742)"><path d="M0 0H85L92 7V24H0Z"/><text x="5" y="16">(3)宿舍设计要求:</text></g>
<g id="g10" class="n" transform="translate(506,2786)"><path d="M0 0H202L209 7V76H0Z"/><text x="5" y="16">1、宿舍风格设计：各参赛宿舍须确定自己宿<tspan x="5" dy="13">舍的风格，如文雅、温馨、活泼等。宿舍文化</tspan><tspan x="5" dy="13">设计内容必须积极向上，健康活泼，体现宿舍</tspan><tspan x="5" dy="13">成员的共同理想与追求，体现大学生的朝气与</tspan><tspan x="5" dy="13">活力。</tspan></text></g>
<g id="g11" class="n" transform="translate(506,2881)"><path d="M0 0H202L209 7V76H0Z"/><text x="5" y="16">2、室名设计：各参赛宿舍都须根据本宿舍特<tspan x="5" dy="13">点取一个宿舍名。宿舍名可以设计为"墨雅轩"</tspan><tspan x="5" dy="13">，"阳 光地带"等言简意赅之名或"击楫阁"等</tspan><tspan x="5" dy="13">引自诗词、蕴涵哲理之名或"知行屋"、"修身</tspan><tspan x="5" dy="13">堂"等用以自勉、催人奋进之名。</tspan></text></g>
<g id="g12" class="n" transform="translate(506,3021)"><path d="M0 0H202L209 7V50H0Z"/><text x="5" y="16">3、宿舍装饰设计合理，富有美感，风格鲜明<tspan x="5" dy="13">。装饰倡导环保、自制，不提倡购买成品装饰</tspan><tspan x="5" dy="13">材料。</tspan></text></g>
<g id="g12a" class="n" transform="translate(274,2975)"><path d="M0 0H202L209 7V50H0Z"/><text x="5" y="16">(4)宿舍设计大赛评分标准：舍标5%、舍名5<tspan x="5" dy="13">%、宿舍装饰60%、舍门15%、微博人气宿</tspan><tspan x="5" dy="13">舍15%。</tspan></text></g>
<g id="g12b" class="n" transform="translate(274,3058)"><path d="M0 0H202L209 7V63H0Z"/><text x="5" y="16">(5)评选方式：(走宿舍评分：组织评分小组到<tspan x="5" dy="13">各个宿舍进行评分，本次活动的评分小组将由</tspan><tspan x="5" dy="13">电子与信息工程学的团学人员及生活委员代表</tspan><tspan x="5" dy="13">组成。遇本班寝室回避，取平均分，即扣掉</tspan></text></g>
<g id="g12b1" class="n" transform="translate(45,3046)"><path d="M0 0H200L207 7V24H0Z"/><text x="5" y="16">一个分,一个最低分,最后取平均分,得出名次。</text></g>
<g id="g12b2" class="n" transform="translate(43,3089)"><path d="M0 0H202L209 7V63H0Z"/><text x="5" y="16">(微博评分：将以各个宿舍交上来的宿舍照片<tspan x="5" dy="13">、宿舍的设计的内容等做成微博投票的方式,</tspan><tspan x="5" dy="13">到时将会进行为期两天的投票选出微博人气宿</tspan><tspan x="5" dy="13">舍。</tspan></text></g>
<g id="g13" class="n" transform="translate(510,3263)"><path d="M0 0H198L205 7V24H0Z"/><text x="5" y="16">2、以学会友，以文说心之宿舍学习交流会:</text></g>
<g id="g13a" class="n" transform="translate(279,3173)"><path d="M0 0H201L208 7V63H0Z"/><text x="5" y="16">(1)12、13、14级宿舍之间进行学习经验交流<tspan x="5" dy="13">，针对英语考级，计算机考级，学习方法，学</tspan><tspan x="5" dy="13">习心得，以及各种学科竞赛等有关学习方面内</tspan><tspan x="5" dy="13">容的交流;</tspan></text></g>
<g id="g13b" class="n" transform="translate(415,3334)"><path d="M0 0H65L72 7V24H0Z"/><text x="5" y="16">(2)报名方式:</text></g>
<g id="g13b1" class="n" transform="translate(184,3254)"><path d="M0 0H202L209 7V102H0Z"/><text x="5" y="16">(12、13级由各班学委推荐几名学习优秀的同<tspan x="5" dy="13">学到14级学生宿舍进行学习交流;(12、13级</tspan><tspan x="5" dy="13">有意愿与14级进行学习交流及愿参与学长学</tspan><tspan x="5" dy="13">姐下宿舍交流的宿舍可向各班学委报名(交流</tspan><tspan x="5" dy="13">会将会在报名日期截止后的第一周进行，具体</tspan><tspan x="5" dy="13">的时间 将会和各个班级交流后决定，到时将</tspan><tspan x="5" dy="13">会组织工作人员带队、跟踪。</tspan></text></g>
<g id="g13b2" class="n" transform="translate(333,3375)"><path d="M0 0H53L60 7V24H0Z"/><text x="5" y="16">奖项设置:</text></g>
<g id="g14" class="n" transform="translate(589,3419)"><path d="M0 0H119L126 7V24H0Z"/><text x="5" y="16">1.宿舍设计大赛一等奖1间;</text></g>
<g id="g15" class="n" transform="translate(589,3463)"><path d="M0 0H119L126 7V24H0Z"/><text x="5" y="16">2.宿舍设计大赛二等奖2间;</text></g>
<g id="g16" class="n" transform="translate(589,3508)"><path d="M0 0H119L126 7V24H0Z"/><text x="5" y="16">3.宿舍设计大赛三等奖5间;</text></g>
<g id="g17" class="n" transform="translate(601,3552)"><path d="M0 0H107L114 7V24H0Z"/><text x="5" y="16">4.微博人气宿舍奖1间。</text></g>
</svg>
